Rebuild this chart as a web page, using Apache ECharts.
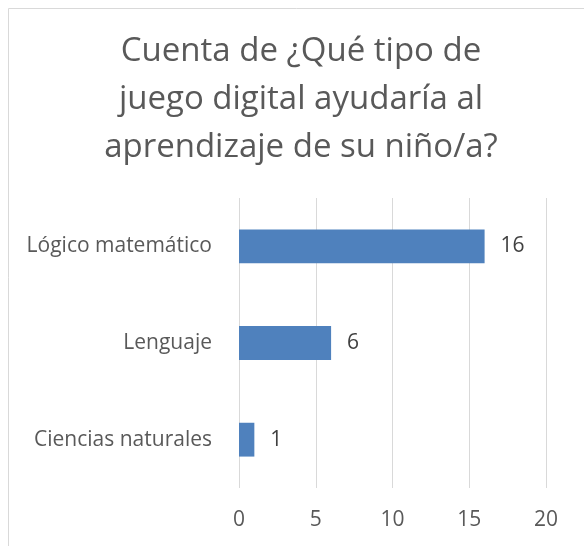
<!DOCTYPE html>
<html>
<head>
<meta charset="utf-8">
<script src="https://cdn.jsdelivr.net/npm/echarts@6/dist/echarts.min.js"></script>
<style>
  html, body { margin: 0; padding: 0; background: #fff; }
  #main { width: 584px; height: 546px; }
</style>
</head>
<body>
<div id="main"></div>
<script>
// datos del grafico
var categorias = ['Ciencias naturales', 'Lenguaje', 'Lógico matemático'];
var cuentas = [1, 6, 16];
var titulo = 'Cuenta de ¿Qué tipo de\njuego digital ayudaría al\naprendizaje de su niño/a?';

var myChart = echarts.init(document.getElementById('main'));
var fuente = '"Open Sans", "Noto Sans", sans-serif';

option = {
    animation: false,
    textStyle: { fontFamily: fuente },
    title: {
        text: titulo,
        left: 296,
        top: 23,
        textAlign: 'center',
        textStyle: {
            fontFamily: fuente,
            fontSize: 33,
            fontWeight: 'normal',
            color: '#595959',
            lineHeight: 48
        }
    },
    // marco del grafico (recortado a la derecha y abajo)
    graphic: [{
        type: 'rect',
        shape: { x: 8.5, y: 8.5, width: 700, height: 700 },
        style: { fill: null, stroke: '#d9d9d9', lineWidth: 1 },
        silent: true
    }],
    grid: {
        left: 239,
        right: 38,
        top: 198,
        bottom: 58
    },
    xAxis: {
        type: 'value',
        min: 0,
        max: 20,
        interval: 5,
        axisLine: { show: false },
        axisTick: { show: false },
        axisLabel: {
            fontSize: 21,
            color: '#595959',
            margin: 22,
            fontFamily: fuente
        },
        splitLine: { lineStyle: { color: '#d9d9d9', width: 1 } }
    },
    yAxis: {
        type: 'category',
        data: categorias,
        axisLine: { show: false },
        axisTick: { show: false },
        axisLabel: {
            fontSize: 21,
            color: '#595959',
            margin: 27,
            fontFamily: fuente
        }
    },
    series: [{
        type: 'bar',
        data: cuentas,
        barWidth: '35%',
        itemStyle: { color: '#4f81bd' },
        label: {
            show: true,
            position: 'right',
            distance: 16,
            fontSize: 21,
            color: '#404040',
            fontFamily: fuente
        }
    }]
};
myChart.setOption(option);
</script>
</body>
</html>
